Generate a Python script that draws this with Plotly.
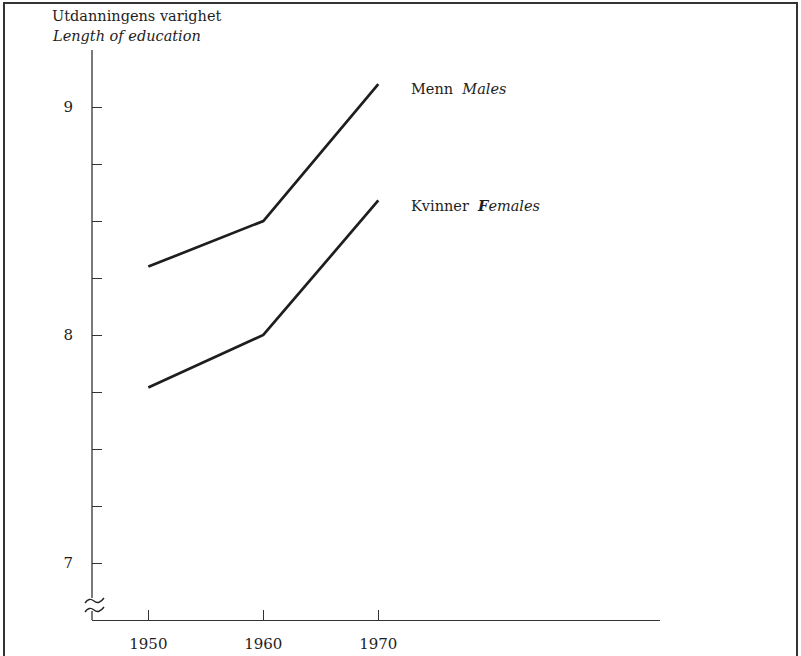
import plotly.graph_objects as go

years = [1950, 1960, 1970]
males = [8.30, 8.50, 9.10]
females = [7.77, 8.00, 8.59]
ytick_vals = [7.0, 7.25, 7.5, 7.75, 8.0, 8.25, 8.5, 8.75, 9.0, 9.25]
ytick_text = ["7", "", "", "", "8", "", "", "", "9", ""]
xtick_vals = [1950, 1960, 1970]
xtick_text = ["1950", "1960", "1970"]

W, H = 801, 656
L, R, T, B = 92, 660, 50, 620
XR = [1945.1, 1994.5]
YR = [6.75, 9.25]
FONT = "DejaVu Serif"
INK = "#1e1e1e"

def px(x):
    return (x - L) / (R - L)

def py(y):
    return (B - y) / (B - T)

fig = go.Figure()
for vals in (males, females):
    fig.add_trace(go.Scatter(x=years, y=vals, mode="lines",
                             line=dict(color=INK, width=2.7), showlegend=False,
                             hoverinfo="skip"))

shapes = []
shapes.append(dict(type="line", xref="paper", yref="paper",
                   x0=0, x1=0, y0=py(598), y1=1, line=dict(color="#333", width=1.3)))
shapes.append(dict(type="line", xref="paper", yref="paper",
                   x0=0, x1=0, y0=0, y1=py(611), line=dict(color="#333", width=1.3)))

def squiggle(yc):
    path = (f"M {px(85)},{py(yc+2)} Q {px(89)},{py(yc-4)} {px(94)},{py(yc)} "
            f"T {px(104)},{py(yc-3)}")
    return dict(type="path", xref="paper", yref="paper", path=path,
                line=dict(color="#222", width=1.4))

shapes.append(squiggle(601))
shapes.append(squiggle(610))
shapes.append(dict(type="rect", xref="paper", yref="paper",
                   x0=px(4), x1=px(797), y0=py(662), y1=py(3),
                   line=dict(color="#333", width=2)))

annotations = [
    dict(text="Utdanningens varighet", xref="paper", yref="paper",
         x=px(50), y=py(16), xanchor="left", yanchor="middle", showarrow=False,
         font=dict(family=FONT, size=14.5, color=INK)),
    dict(text="<i>Length of education</i>", xref="paper", yref="paper",
         x=px(50), y=py(36), xanchor="left", yanchor="middle", showarrow=False,
         font=dict(family=FONT, size=14.5, color=INK)),
    dict(text="Menn  <i>Males</i>", xref="x", yref="y",
         x=1972.7, y=9.08, xanchor="left", yanchor="middle", showarrow=False,
         font=dict(family=FONT, size=14.5, color=INK)),
    dict(text="Kvinner  <b><i>F</i></b><i>emales</i>", xref="x", yref="y",
         x=1972.7, y=8.57, xanchor="left", yanchor="middle", showarrow=False,
         font=dict(family=FONT, size=14.5, color=INK)),
]

fig.update_layout(
    width=W, height=H,
    margin=dict(l=L, r=W - R, t=T, b=H - B, pad=0, autoexpand=False),
    paper_bgcolor="white", plot_bgcolor="white",
    shapes=shapes, annotations=annotations,
    font=dict(family=FONT, size=15, color=INK),
    xaxis=dict(range=XR, showgrid=False, zeroline=False, showline=True,
               automargin=False,
               linecolor="#333", linewidth=1.3, ticks="inside", ticklen=10,
               tickwidth=1.2, tickcolor="#333", tickvals=xtick_vals,
               ticktext=xtick_text, ticklabelstandoff=10,
               tickfont=dict(family=FONT, size=15, color=INK)),
    yaxis=dict(range=YR, showgrid=False, zeroline=False, showline=False,
               automargin=False,
               ticks="inside", ticklen=10, tickwidth=1.2, tickcolor="#333",
               tickvals=ytick_vals, ticktext=ytick_text, ticklabelstandoff=18,
               tickfont=dict(family=FONT, size=15, color=INK)),
)

fig.write_html("out.html", config={"displayModeBar": False},
               post_script="document.body.style.margin='0';document.body.style.overflow='hidden';")
